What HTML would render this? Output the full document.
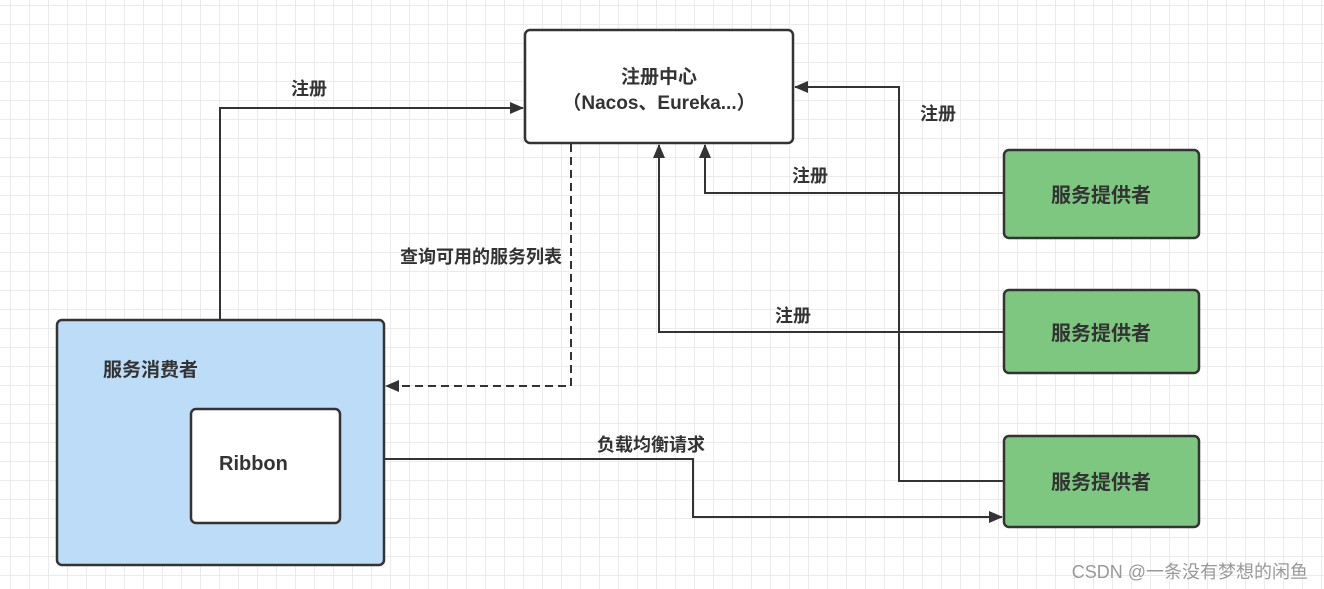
<!DOCTYPE html>
<html><head><meta charset="utf-8"><style>
body{margin:0;width:1324px;height:589px;overflow:hidden;background:#fff;
background-image:linear-gradient(#ebebeb 1px,transparent 1px),linear-gradient(90deg,#ebebeb 1px,transparent 1px);
background-size:19px 19px;background-position:10px 5px;}
svg{position:absolute;left:0;top:0}
text{font-family:"Liberation Sans","Noto Sans CJK SC",sans-serif;font-weight:bold;fill:#333}
.t{font-size:19px}.p{font-size:20px}.l{font-size:18px}.q{font-size:18px}
</style></head><body>
<svg width="1324" height="589">
<defs><marker id="a" markerWidth="14" markerHeight="12" refX="13" refY="6" orient="auto" markerUnits="userSpaceOnUse"><path d="M0,0 L14,6 L0,12 Z" fill="#333"/></marker></defs>
<g fill="none" stroke="#333" stroke-width="2">
<polyline points="220,320 220,108 523,108" marker-end="url(#a)"/>
<polyline points="571,144 571,386 386,386" stroke-dasharray="8,5" marker-end="url(#a)"/>
<polyline points="1004,193 705,193 705,145" marker-end="url(#a)"/>
<polyline points="1004,332 659,332 659,145" marker-end="url(#a)"/>
<polyline points="1004,481 899,481 899,87 795,87" marker-end="url(#a)"/>
<polyline points="385,459 693,459 693,517 1002,517" marker-end="url(#a)"/>
</g>
<g stroke="#333" stroke-width="2.5">
<rect x="525" y="30" width="268" height="113" rx="5" fill="#fff"/>
<rect x="57" y="320" width="327" height="245" rx="5" fill="#bcdcf7"/>
<rect x="191" y="409" width="149" height="114" rx="5" fill="#fff"/>
<rect x="1004" y="150" width="195" height="88" rx="5" fill="#7ec780"/>
<rect x="1004" y="290" width="195" height="83" rx="5" fill="#7ec780"/>
<rect x="1004" y="436" width="195" height="91" rx="5" fill="#7ec780"/>
</g>
<text x="659" y="83" text-anchor="middle" class="t">注册中心</text>
<text x="659" y="109" text-anchor="middle" class="t">（Nacos、Eureka...）</text>
<text x="103" y="376" class="t">服务消费者</text>
<text x="219" y="470" class="p">Ribbon</text>
<text x="1101" y="202" text-anchor="middle" class="p">服务提供者</text>
<text x="1101" y="340" text-anchor="middle" class="p">服务提供者</text>
<text x="1101" y="489" text-anchor="middle" class="p">服务提供者</text>
<text x="309" y="95" text-anchor="middle" class="l">注册</text>
<text x="481" y="263" text-anchor="middle" class="q">查询可用的服务列表</text>
<text x="810" y="182" text-anchor="middle" class="l">注册</text>
<text x="793" y="322" text-anchor="middle" class="l">注册</text>
<text x="938" y="120" text-anchor="middle" class="l">注册</text>
<text x="651" y="451" text-anchor="middle" class="l">负载均衡请求</text>
<text x="1308" y="578" text-anchor="end" style="font-size:18px;font-weight:normal;fill:#999">CSDN @一条没有梦想的闲鱼</text>
</svg>
</body></html>
